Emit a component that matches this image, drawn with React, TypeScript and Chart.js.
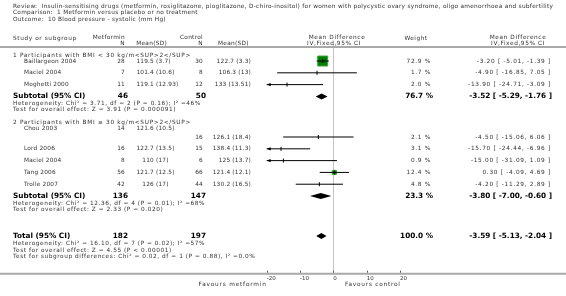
import React, { useEffect, useRef } from "react";
import { Chart, registerables } from "chart.js";

Chart.register(...registerables);

// ---------------- DATA ----------------
const TITLE_LINES = [
  "Review:  Insulin-sensitising drugs (metformin, rosiglitazone, pioglitazone, D-chiro-inositol) for women with polycystic ovary syndrome, oligo amenorrhoea and subfertility",
  "Comparison:  1 Metformin versus placebo or no treatment",
  "Outcome:  10 Blood pressure - systolic (mm Hg)",
];

const GROUP_LABELS = [
  "1 Participants with BMI < 30 kg/m<SUP>2</SUP>",
  "2 Participants with BMI \u2265 30 kg/m<SUP>2</SUP>",
];

const G1_STUDIES = ["Baillargeon 2004", "Maciel 2004", "Moghetti 2000"];
const G1_MET_N = [28, 7, 11];
const G1_MET_MEAN = [119.5, 101.4, 119.1];
const G1_MET_SD = [3.7, 10.6, 12.93];
const G1_CTL_N = [30, 8, 12];
const G1_CTL_MEAN = [122.7, 106.3, 133];
const G1_CTL_SD = [3.3, 13, 13.51];
const G1_WEIGHT = [72.9, 1.7, 2.0];
const G1_MD = [-3.2, -4.9, -13.9];
const G1_LO = [-5.01, -16.85, -24.71];
const G1_HI = [-1.39, 7.05, -3.09];

const G2_STUDIES = ["Chou 2003", "Lord 2006", "Maciel 2004", "Tang 2006", "Trolle 2007"];
const G2_MET_N = [14, 16, 8, 56, 42];
const G2_MET_MEAN = [121.6, 122.7, 110, 121.7, 126];
const G2_MET_SD = [10.5, 13.5, 17, 12.5, 17];
const G2_CTL_N = [16, 15, 6, 66, 44];
const G2_CTL_MEAN = [126.1, 138.4, 125, 121.4, 130.2];
const G2_CTL_SD = [18.4, 11.3, 13.7, 12.1, 16.5];
const G2_WEIGHT = [2.1, 3.1, 0.9, 12.4, 4.8];
const G2_MD = [-4.5, -15.7, -15.0, 0.3, -4.2];
const G2_LO = [-15.06, -24.44, -31.09, -4.09, -11.29];
const G2_HI = [6.06, -6.96, 1.09, 4.69, 2.89];

const SUB_MET_N = [46, 136];
const SUB_CTL_N = [50, 147];
const SUB_WEIGHT = [76.7, 23.3];
const SUB_MD = [-3.52, -3.8];
const SUB_LO = [-5.29, -7.0];
const SUB_HI = [-1.76, -0.6];
const SUB_HET = [
  "Heterogeneity: Chi\u00b2 = 3.71, df = 2 (P = 0.16); I\u00b2 =46%",
  "Heterogeneity: Chi\u00b2 = 12.36, df = 4 (P = 0.01); I\u00b2 =68%",
];
const SUB_TEST = [
  "Test for overall effect: Z = 3.91 (P = 0.000091)",
  "Test for overall effect: Z = 2.33 (P = 0.020)",
];

const TOTAL_MET_N = 182;
const TOTAL_CTL_N = 197;
const TOTAL_WEIGHT = 100.0;
const TOTAL_MD = -3.59;
const TOTAL_LO = -5.13;
const TOTAL_HI = -2.04;
const TOTAL_NOTES = [
  "Heterogeneity: Chi\u00b2 = 16.10, df = 7 (P = 0.02); I\u00b2 =57%",
  "Test for overall effect: Z = 4.55 (P < 0.00001)",
  "Test for subgroup differences: Chi\u00b2 = 0.02, df = 1 (P = 0.88), I\u00b2 =0.0%",
];

const X_TICKS = [-20, -10, 0, 10, 20];
const FAVOURS = ["Favours metformin", "Favours control"];

// ---------------- LAYOUT / STYLE ----------------
const W = 566;
const H = 296;
const FONT = '"DejaVu Sans", Verdana, sans-serif';
const PLOT_TOP = 44;
const ROW0 = 1.442;
const GROUP_GAP = 3.44;
const TOTAL_GAP = 3.38;
const Y_MAX = 19.38;
const MAX_WEIGHT_SIDE = 10;

type Study = {
  name: string; mn: number; mm: number; msd: number; cn: number; cm: number; csd: number;
  w: number; md: number; lo: number; hi: number; y: number;
};

function buildGroups() {
  const raw = [
    { names: G1_STUDIES, mn: G1_MET_N, mm: G1_MET_MEAN, msd: G1_MET_SD, cn: G1_CTL_N, cm: G1_CTL_MEAN, csd: G1_CTL_SD, w: G1_WEIGHT, md: G1_MD, lo: G1_LO, hi: G1_HI },
    { names: G2_STUDIES, mn: G2_MET_N, mm: G2_MET_MEAN, msd: G2_MET_SD, cn: G2_CTL_N, cm: G2_CTL_MEAN, csd: G2_CTL_SD, w: G2_WEIGHT, md: G2_MD, lo: G2_LO, hi: G2_HI },
  ];
  let y = ROW0;
  let prevSub: number | null = null;
  const groups = raw.map((g, gi) => {
    const headerY = prevSub === null ? ROW0 - 0.51 : prevSub + 2.17;
    const studies: Study[] = g.names.map((name, i) => ({
      name, mn: g.mn[i], mm: g.mm[i], msd: g.msd[i], cn: g.cn[i], cm: g.cm[i], csd: g.csd[i],
      w: g.w[i], md: g.md[i], lo: g.lo[i], hi: g.hi[i], y: y + i,
    }));
    const subY = y + g.names.length;
    prevSub = subY;
    y = subY + GROUP_GAP;
    return {
      label: GROUP_LABELS[gi], headerY, studies, subY,
      sub: { mn: SUB_MET_N[gi], cn: SUB_CTL_N[gi], w: SUB_WEIGHT[gi], md: SUB_MD[gi], lo: SUB_LO[gi], hi: SUB_HI[gi], het: SUB_HET[gi], test: SUB_TEST[gi] },
    };
  });
  const totalY = (prevSub as unknown as number) + TOTAL_GAP;
  return { groups, totalY };
}

const fmtMD = (md: number, lo: number, hi: number) => `${md.toFixed(2)} [ ${lo.toFixed(2)}, ${hi.toFixed(2)} ]`;
const fmtW = (w: number) => `${w.toFixed(1)} %`;

function txt(ctx: CanvasRenderingContext2D, s: string, x: number, y: number, align: CanvasTextAlign, font: string, color: string, spacing = 0) {
  ctx.save();
  ctx.font = font;
  ctx.textAlign = align;
  ctx.textBaseline = "middle";
  ctx.fillStyle = color;
  (ctx as any).letterSpacing = `${spacing}px`;
  ctx.fillText(s, x, y);
  ctx.restore();
}

export default function App() {
  const ref = useRef<HTMLCanvasElement | null>(null);

  useEffect(() => {
    if (!ref.current) return;
    const { groups, totalY } = buildGroups();
    const allStudies = groups.flatMap((g) => g.studies);
    const xMin = X_TICKS[0];
    const xMax = X_TICKS[X_TICKS.length - 1];
    const maxW = Math.max(...allStudies.map((s) => s.w));
    const sideFor = (w: number) => MAX_WEIGHT_SIDE * Math.sqrt(w / maxW);

    const ciDatasets = allStudies.map((s) => ({
      type: "scatter" as const,
      data: [{ x: s.lo, y: s.y }, { x: s.hi, y: s.y }],
      showLine: true,
      borderColor: "#000",
      borderWidth: 1,
      pointRadius: 0,
      order: 2,
    }));

    const squares = {
      type: "scatter" as const,
      data: allStudies.map((s) => ({ x: s.md, y: s.y })),
      pointStyle: "rect" as const,
      pointRadius: allStudies.map((s) => { const side = sideFor(s.w); return side >= 3 ? side / Math.SQRT2 : 0; }),
      backgroundColor: "#007d00",
      borderColor: "#3aa83a",
      borderWidth: 1,
      order: 3,
    };

    const ticks = {
      type: "scatter" as const,
      data: allStudies.map((s) => ({ x: s.md, y: s.y })),
      pointStyle: "line" as const,
      rotation: 90,
      pointRadius: 2,
      borderColor: "#000",
      borderWidth: 1,
      order: 1,
    };

    const forestPlugin = {
      id: "forest",
      beforeDraw(chart: any) {
        const c = chart.ctx;
        c.save();
        c.fillStyle = "#fff";
        c.fillRect(0, 0, chart.width, chart.height);
        c.restore();
      },
      afterDatasetsDraw(chart: any) {
        const c: CanvasRenderingContext2D = chart.ctx;
        const xs = chart.scales.x;
        const ys = chart.scales.y;
        c.save();
        c.fillStyle = "#000";
        allStudies.forEach((s) => {
          const py = ys.getPixelForValue(s.y);
          if (s.lo < xMin) {
            const px = xs.getPixelForValue(xMin);
            c.beginPath();
            c.moveTo(px, py);
            c.lineTo(px + 4, py - 1.6);
            c.lineTo(px + 4, py + 1.6);
            c.closePath();
            c.fill();
          }
          if (s.hi > xMax) {
            const px = xs.getPixelForValue(xMax);
            c.beginPath();
            c.moveTo(px, py);
            c.lineTo(px - 4, py - 1.6);
            c.lineTo(px - 4, py + 1.6);
            c.closePath();
            c.fill();
          }
        });
        const diamonds = [
          ...groups.map((g) => ({ y: g.subY, md: g.sub.md, lo: g.sub.lo, hi: g.sub.hi })),
          { y: totalY, md: TOTAL_MD, lo: TOTAL_LO, hi: TOTAL_HI },
        ];
        diamonds.forEach((d) => {
          const py = ys.getPixelForValue(d.y);
          const h = 3;
          c.beginPath();
          c.moveTo(xs.getPixelForValue(d.lo), py);
          c.lineTo(xs.getPixelForValue(d.md), py - h);
          c.lineTo(xs.getPixelForValue(d.hi), py);
          c.lineTo(xs.getPixelForValue(d.md), py + h);
          c.closePath();
          c.fill();
        });
        c.restore();
      },
      afterDraw(chart: any) {
        const c: CanvasRenderingContext2D = chart.ctx;
        const xs = chart.scales.x;
        const ys = chart.scales.y;
        const area = chart.chartArea;
        const fN = `5.8px ${FONT}`;
        const fB = `bold 7.3px ${FONT}`;
        const dark = "#333";
        const black = "#000";

        // title
        TITLE_LINES.forEach((l, i) => txt(c, l, 13, 6 + i * 6.6, "left", fN, dark, 0.29));

        // header
        txt(c, "Study or subgroup", 13, 38, "left", fN, dark, 0.6);
        txt(c, "Metformin", 125, 37, "right", fN, dark, 0.3);
        txt(c, "N", 125, 43, "right", fN, dark, 0.3);
        txt(c, "Mean(SD)", 167, 43, "right", fN, dark, 0.3);
        txt(c, "Control", 203, 37, "right", fN, dark, 0.3);
        txt(c, "N", 203, 43, "right", fN, dark, 0.3);
        txt(c, "Mean(SD)", 218, 43, "left", fN, dark, 0.3);
        txt(c, "Mean Difference", 337, 37, "center", fN, dark, 0.6);
        txt(c, "IV,Fixed,95% CI", 334, 43, "center", fN, dark, 0.6);
        txt(c, "Weight", 416, 38, "center", fN, dark, 0.5);
        txt(c, "Mean Difference", 518, 37, "center", fN, dark, 0.6);
        txt(c, "IV,Fixed,95% CI", 518, 43, "center", fN, dark, 0.6);

        // full-width rules
        c.save();
        c.strokeStyle = "#a9a9a9";
        c.lineWidth = 2;
        c.beginPath();
        c.moveTo(0, 47);
        c.lineTo(W, 47);
        c.moveTo(0, area.bottom + 1);
        c.lineTo(W, area.bottom + 1);
        c.stroke();
        c.strokeStyle = "#555";
        c.lineWidth = 1;
        X_TICKS.forEach((v) => {
          const px = Math.round(xs.getPixelForValue(v)) + 0.5;
          c.beginPath();
          c.moveTo(px, area.bottom - 2);
          c.lineTo(px, area.bottom);
          c.stroke();
        });
        c.restore();

        groups.forEach((g) => {
          const hy = ys.getPixelForValue(g.headerY);
          txt(c, g.label, 13, hy, "left", fN, dark, 0.7);
          g.studies.forEach((s, i) => {
            const py = ys.getPixelForValue(s.y);
            const ly = i === 0 ? hy + 6.3 : py;
            txt(c, s.name, 24, ly, "left", fN, dark, 0.2);
            txt(c, String(s.mn), 125, ly, "right", fN, dark, 0.2);
            txt(c, String(s.mm), 154, ly, "right", fN, dark, 0.2);
            txt(c, `(${s.msd})`, 156, ly, "left", fN, dark, 0.2);
            txt(c, String(s.cn), 203, py, "right", fN, dark, 0.2);
            txt(c, `${s.cm} (${s.csd})`, 251, py, "right", fN, dark, 0.2);
            txt(c, fmtW(s.w), 431, py, "right", fN, dark, 0.7);
            txt(c, fmtMD(s.md, s.lo, s.hi), 551, py, "right", fN, dark, 0.7);
          });
          const sy = ys.getPixelForValue(g.subY);
          txt(c, "Subtotal (95% CI)", 13, sy, "left", fB, black);
          txt(c, String(g.sub.mn), 128, sy, "right", fB, black);
          txt(c, String(g.sub.cn), 206, sy, "right", fB, black);
          txt(c, fmtW(g.sub.w), 433, sy, "right", fB, black);
          txt(c, fmtMD(g.sub.md, g.sub.lo, g.sub.hi), 552, sy, "right", fB, black);
          txt(c, g.sub.het, 13, sy + 7, "left", fN, dark, 0.55);
          txt(c, g.sub.test, 13, sy + 13, "left", fN, dark, 0.55);
        });

        const ty = ys.getPixelForValue(totalY);
        txt(c, "Total (95% CI)", 13, ty, "left", fB, black);
        txt(c, String(TOTAL_MET_N), 128, ty, "right", fB, black);
        txt(c, String(TOTAL_CTL_N), 206, ty, "right", fB, black);
        txt(c, fmtW(TOTAL_WEIGHT), 433, ty, "right", fB, black);
        txt(c, fmtMD(TOTAL_MD, TOTAL_LO, TOTAL_HI), 552, ty, "right", fB, black);
        TOTAL_NOTES.forEach((n, i) => txt(c, n, 13, ty + 8 + i * 6.2, "left", fN, dark, 0.55));

        txt(c, FAVOURS[0], xs.getPixelForValue(xMin), 284, "right", fN, dark, 0.8);
        txt(c, FAVOURS[1], 345, 284, "left", fN, dark, 0.75);
      },
    };

    const chart = new Chart(ref.current, {
      type: "scatter",
      data: { datasets: [ticks, ...ciDatasets, squares] as any },
      options: {
        animation: false,
        responsive: false,
        maintainAspectRatio: false,
        devicePixelRatio: 1,
        events: [],
        layout: { padding: { left: 266.7, right: W - 400, top: PLOT_TOP, bottom: 0 } },
        plugins: { legend: { display: false }, tooltip: { enabled: false } },
        scales: {
          x: {
            type: "linear",
            min: xMin,
            max: xMax,
            position: "bottom",
            afterFit: (s: any) => { s.height = 23.3; },
            afterBuildTicks: (s: any) => { s.ticks = X_TICKS.map((v) => ({ value: v })); },
            ticks: {
              autoSkip: false,
              align: "start",
              padding: 3,
              maxRotation: 0,
              font: { family: FONT, size: 5.5 },
              color: "#333",
            },
            grid: {
              drawTicks: false,
              lineWidth: 1,
              color: (ctx: any) => (ctx.tick && ctx.tick.value === 0 ? "#c4c4c4" : "rgba(0,0,0,0)"),
            },
            border: { display: false },
          },
          y: {
            type: "linear",
            display: false,
            min: 0,
            max: Y_MAX,
            reverse: true,
          },
        },
      },
      plugins: [forestPlugin],
    });
    return () => chart.destroy();
  }, []);

  return (
    <div style={{ position: "absolute", left: 0, top: 0, width: W, height: H, background: "#fff" }}>
      <canvas ref={ref} width={W} height={H} style={{ display: "block", width: W, height: H }} />
    </div>
  );
}
